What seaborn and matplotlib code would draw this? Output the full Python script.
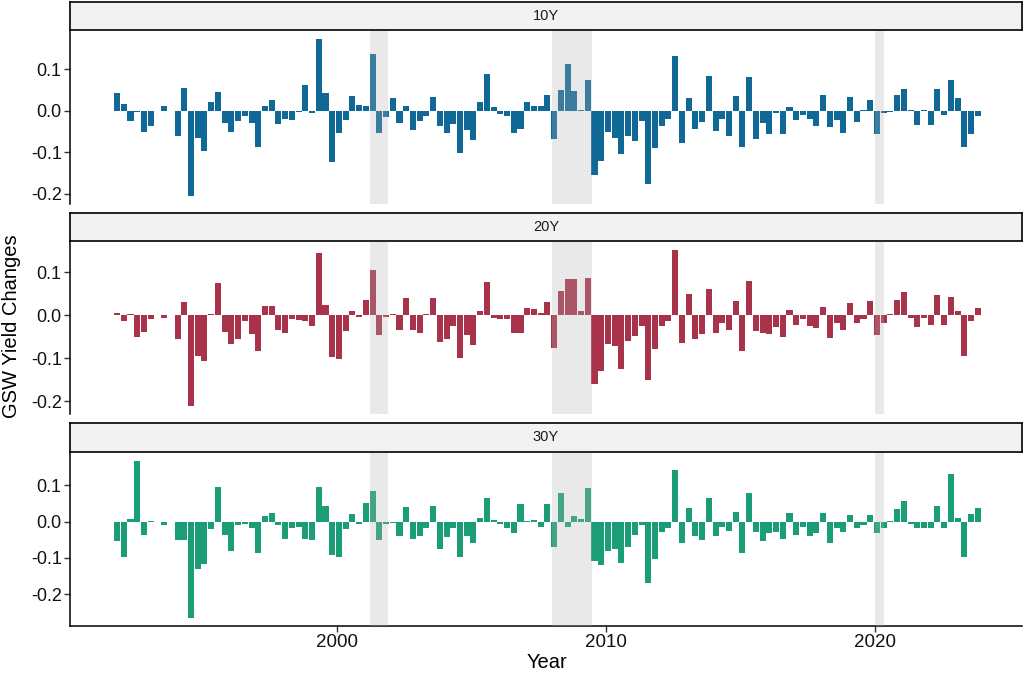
import numpy as np
import pandas as pd
import matplotlib
matplotlib.use("Agg")
import matplotlib.pyplot as plt
from matplotlib.ticker import MultipleLocator, FormatStrFormatter
import seaborn as sns

sns.set_style("white")
plt.rcParams['font.family'] = ['Liberation Sans', 'DejaVu Sans']
plt.rcParams['axes.unicode_minus'] = False

nan = np.nan
# quarterly observation dates
dates = pd.date_range("1991-11-01", periods=129, freq="3MS")
years = dates.year + (dates.month - 1) / 12.0

y10 = [0.043, 0.016, -0.024, -0.003, -0.051, -0.036, nan, 0.011, nan, -0.060,
       0.055, -0.206, -0.065, -0.097, 0.021, 0.045, -0.029, -0.051, -0.024, -0.012,
       -0.029, -0.087, 0.011, 0.026, -0.031, -0.019, -0.022, -0.003, 0.062, -0.005,
       0.173, 0.043, -0.123, -0.053, -0.022, 0.035, 0.014, 0.011, 0.137, -0.053,
       -0.015, 0.031, -0.029, 0.011, -0.046, -0.024, -0.012, 0.033, -0.036, -0.053,
       -0.031, -0.102, -0.046, -0.070, 0.021, 0.089, 0.009, -0.007, -0.012, -0.053,
       -0.044, 0.021, 0.011, 0.011, 0.038,
       -0.068, 0.050, 0.113, 0.048, 0.002, 0.074, -0.155, -0.121, -0.051, -0.065,
       -0.104, -0.060, -0.073, -0.024, -0.177, -0.090, -0.036, -0.019, 0.132, -0.077,
       0.031, -0.044, -0.027, 0.084, -0.048, -0.019, -0.060, 0.035, -0.087, 0.081,
       -0.068, -0.029, -0.056, -0.005, -0.056, 0.009,
       -0.022, -0.010, -0.019, -0.036, 0.038, -0.039, -0.022, -0.053, 0.033, -0.027,
       0.001, 0.026, -0.056, -0.005, -0.003, 0.038, 0.052, 0.002, -0.034, 0.002,
       -0.034, 0.052, -0.010, 0.074, 0.031, -0.087, -0.056, -0.012]

y20 = [0.006, -0.014, 0.004, -0.051, -0.039, -0.009, nan, -0.007, nan, -0.056,
       0.032, -0.211, -0.095, -0.107, 0.002, 0.076, -0.039, -0.067, -0.056, -0.014,
       -0.044, -0.084, 0.022, 0.022, -0.035, -0.042, -0.009, -0.012, -0.014, -0.025,
       0.145, 0.025, -0.097, -0.102, -0.037, 0.009, -0.003, 0.036, 0.104, -0.046,
       -0.005, 0.002, -0.035, 0.041, -0.035, -0.042, 0.002, 0.039, -0.063, -0.056,
       -0.026, -0.100, -0.046, -0.070, 0.009, 0.078, -0.007, -0.009, -0.009, -0.042,
       -0.042, 0.018, 0.015, 0.006, 0.032,
       -0.077, 0.057, 0.085, 0.085, 0.011, 0.087, -0.160, -0.130, -0.067, -0.072,
       -0.125, -0.060, -0.049, -0.026, -0.151, -0.079, -0.026, -0.014, 0.152, -0.065,
       0.050, -0.056, -0.044, 0.062, -0.042, -0.019, -0.035, 0.034, -0.084, 0.080,
       -0.037, -0.042, -0.044, -0.028, -0.051, 0.013,
       -0.023, -0.009, -0.026, -0.030, 0.020, -0.053, -0.019, -0.035, 0.029, -0.019,
       -0.009, 0.034, -0.046, -0.019, 0.004, 0.036, 0.055, -0.007, -0.028, -0.007,
       -0.023, 0.046, -0.023, 0.043, 0.011, -0.095, -0.014, 0.018]

y30 = [-0.055, -0.099, 0.007, 0.167, -0.036, 0.002, nan, -0.011, nan, -0.052,
       -0.052, -0.265, -0.132, -0.116, -0.022, 0.096, -0.036, -0.080, -0.011, -0.006,
       -0.017, -0.086, 0.016, 0.024, -0.011, -0.047, -0.017, -0.014, -0.047, -0.052,
       0.096, 0.043, -0.091, -0.097, -0.022, 0.021, -0.006, 0.052, 0.085, -0.052,
       -0.006, -0.003, -0.039, 0.040, -0.047, -0.039, -0.017, 0.043, -0.075, -0.044,
       -0.019, -0.097, -0.041, -0.058, 0.010, 0.065, 0.005, -0.006, -0.017, -0.033,
       0.049, 0.002, 0.005, -0.014, 0.049,
       -0.069, 0.079, -0.014, 0.016, 0.007, 0.093, -0.110, -0.119, -0.080, -0.077,
       -0.113, -0.069, -0.036, -0.011, -0.168, -0.102, -0.030, -0.019, 0.143, -0.058,
       0.038, -0.041, -0.052, 0.065, -0.041, -0.014, -0.025, 0.027, -0.086, 0.079,
       -0.028, -0.055, -0.033, -0.030, -0.047, 0.024,
       -0.036, -0.014, -0.039, -0.033, 0.024, -0.058, -0.017, -0.028, 0.018, -0.019,
       -0.011, 0.018, -0.033, -0.017, 0.002, 0.035, 0.057, -0.006, -0.019, -0.017,
       -0.017, 0.043, -0.017, 0.132, 0.010, -0.097, 0.021, 0.038]

maturities = ["10Y", "20Y", "30Y"]
series = [y10, y20, y30]
colors = ["#0F6896", "#A8334A", "#1B9E77"]

rec_start = [2001.25, 2008.0, 2020.0]
rec_end = [2001.917, 2009.5, 2020.333]

x_ticks = [2000, 2010, 2020]

W, H = 1024, 673
fig = plt.figure(figsize=(W / 100, H / 100), dpi=100)

# pixel layout: (strip_top, strip_bottom, panel_top, panel_bottom)
layout = [(2, 30, 31, 204), (213, 241, 242, 414), (423, 452, 453, 625.6)]
left_px, right_px = 70, 1022

for i, (mat, vals, col) in enumerate(zip(maturities, series, colors)):
    st, sb, pt, pb = layout[i]
    ax = fig.add_axes([left_px / W, 1 - pb / H, (right_px - left_px) / W, (pb - pt) / H])
    df = pd.DataFrame({"Year": years, "value": vals}).dropna()
    sns.barplot(data=df, x="Year", y="value", native_scale=True, width=0.9,
                color=col, saturation=1, errorbar=None, ax=ax, linewidth=0)
    for s, e in zip(rec_start, rec_end):
        ax.axvspan(s, e, color="#B3B3B3", alpha=0.28, lw=0, zorder=5)
    v = np.array(vals, dtype=float)
    vmin, vmax = np.nanmin(v), np.nanmax(v)
    rng = vmax - vmin
    ax.set_ylim(vmin - 0.05 * rng, vmax + 0.05 * rng)
    ax.set_xlim(1990.085, 2025.476)
    ax.yaxis.set_major_locator(MultipleLocator(0.1))
    ax.yaxis.set_major_formatter(FormatStrFormatter('%.1f'))
    ax.set_xlabel("")
    ax.set_ylabel("")
    for sp in ["top", "right"]:
        ax.spines[sp].set_visible(False)
    ax.spines["left"].set_color("black")
    ax.spines["left"].set_linewidth(1.1)
    ax.tick_params(axis="y", left=True, length=4, width=1.0, color="#333333",
                   labelsize=13, labelcolor="#111111", pad=2)
    if i < 2:
        ax.spines["bottom"].set_visible(False)
        ax.set_xticks([])
    else:
        ax.spines["bottom"].set_color("black")
        ax.spines["bottom"].set_linewidth(1.1)
        ax.set_xticks(x_ticks)
        ax.set_xticklabels([str(t) for t in x_ticks])
        ax.tick_params(axis="x", bottom=True, length=4, width=1.0, color="#333333",
                       labelsize=13.5, labelcolor="#111111", pad=2)
    ax.patch.set_alpha(0)

    sax = fig.add_axes([left_px / W, 1 - sb / H, (right_px - left_px) / W, (sb - st) / H])
    sax.set_facecolor("#F2F2F2")
    sax.set_xticks([])
    sax.set_yticks([])
    for sp in sax.spines.values():
        sp.set_visible(True)
        sp.set_color("black")
        sp.set_linewidth(1.2)
    sax.text(0.5, 0.5, mat, ha="center", va="center", fontsize=10.5,
             color="#1a1a1a", transform=sax.transAxes)

fig.text(12 / W, 1 - 326 / H, "GSW Yield Changes", rotation=90, ha="center",
         va="center", fontsize=14.5, color="black")
fig.text(547 / W, 1 - 663 / H, "Year", ha="center", va="center",
         fontsize=14.5, color="black")

fig.savefig("out.png", dpi=100)
